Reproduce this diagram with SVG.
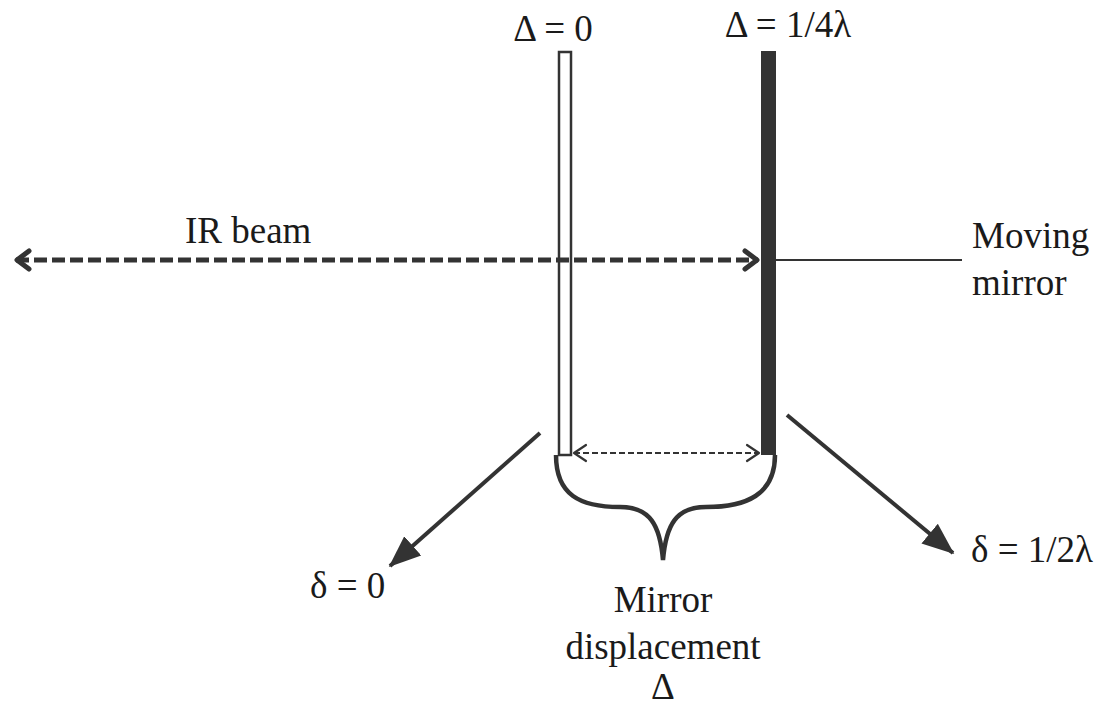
<svg xmlns="http://www.w3.org/2000/svg" width="1104" height="708" viewBox="0 0 1104 708">
<style>
text{font-family:"Liberation Serif","Times New Roman",serif;font-size:37px;fill:#1a1a1a}
.c{text-anchor:middle}
.ln{stroke:#333;fill:none}
</style>
<defs>
<marker id="bigchev" viewBox="0 0 24 24" refX="21" refY="12" markerWidth="24" markerHeight="24" orient="auto-start-reverse" markerUnits="userSpaceOnUse">
<path d="M8,3 L20,12 L8,21" fill="none" stroke="#333" stroke-width="5" stroke-linecap="round" stroke-linejoin="round"/>
</marker>
<marker id="tri" viewBox="0 0 10 10" refX="9.5" refY="5" markerWidth="32" markerHeight="32" orient="auto" markerUnits="userSpaceOnUse">
<path d="M0,1 L10,5 L0,9 Z" fill="#333"/>
</marker>
<marker id="smchev" viewBox="0 0 20 20" refX="18" refY="10" markerWidth="20" markerHeight="20" orient="auto-start-reverse" markerUnits="userSpaceOnUse">
<path d="M6,2 L18,10 L6,18" fill="none" stroke="#333" stroke-width="2.2" stroke-linecap="round" stroke-linejoin="round"/>
</marker>
</defs>
<g id="fixed-mirror">
<rect x="559" y="52" width="12" height="403" fill="#fff" stroke="#333" stroke-width="2.5"/>
<text x="553" y="41" class="c">Δ = 0</text>
</g>
<g id="moving-mirror">
<rect x="761" y="51" width="15" height="404" fill="#333"/>
<text x="788" y="37" class="c">Δ = 1/4λ</text>
</g>
<g id="connectors">
<line class="ln" x1="16" y1="260" x2="758" y2="260" stroke-width="5" stroke-dasharray="13,5" marker-start="url(#bigchev)" marker-end="url(#bigchev)"/>
<line class="ln" x1="776" y1="260" x2="962" y2="260" stroke-width="2"/>
<line class="ln" x1="574" y1="453" x2="759" y2="453" stroke-width="2.2" stroke-dasharray="6,3" marker-start="url(#smchev)" marker-end="url(#smchev)"/>
<path class="ln" stroke-width="4.5" d="M556,455 C556,495 580,507 620,507 C650,507 660,525 663,560 C666,525 676,507 706,507 C746,507 775,495 775,455"/>
<line class="ln" x1="540" y1="433" x2="390" y2="566" stroke-width="4" marker-end="url(#tri)"/>
<line class="ln" x1="787" y1="415" x2="953" y2="553" stroke-width="4" marker-end="url(#tri)"/>
</g>
<g id="labels">
<text x="185" y="243">IR beam</text>
<text x="972" y="248">Moving</text>
<text x="972" y="295">mirror</text>
<text x="310" y="598">δ = 0</text>
<text x="971" y="562">δ = 1/2λ</text>
<text x="663" y="612" class="c">Mirror</text>
<text x="663" y="659" class="c">displacement</text>
<text x="663" y="699" class="c">Δ</text>
</g>
</svg>
